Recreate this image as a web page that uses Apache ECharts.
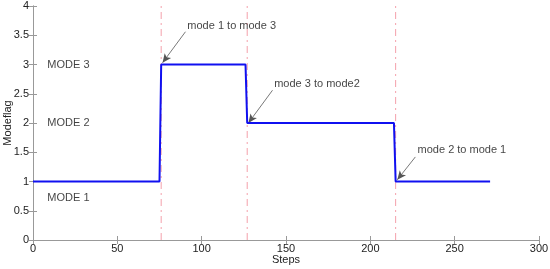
<!DOCTYPE html>
<html><head><meta charset="utf-8">
<script src="https://cdn.jsdelivr.net/npm/echarts@6/dist/echarts.min.js"></script>
<style>html,body{margin:0;padding:0;background:#fff}#c{width:550px;height:269px}</style>
</head><body><div id="c"></div>
<script>
// step series (Steps, Modeflag)
const steps    = [0, 75, 76, 126, 127, 214, 215, 271];
const modeflag = [1, 1, 3, 3, 2, 2, 1, 1];
// transition markers (x positions)
const transitions = [76, 127, 215];
// mode labels
const modeLabels = ['MODE 3', 'MODE 2', 'MODE 1'];
const modeLabelX = [8.5, 8.5, 8.5];
const modeLabelY = [3, 2, 0.72];
// annotations
const annTexts = ['mode 1 to mode 3', 'mode 3 to mode2', 'mode 2 to mode 1'];
const annTextX = [91.5, 143, 228];
const annTextY = [3.66, 2.67, 1.54];
const arrowFromX = [90.4, 142, 226.7];
const arrowFromY = [3.56, 2.56, 1.42];
const arrowToX = [76.8, 127.7, 216];
const arrowToY = [3.03, 2.0, 1.03];

const FONT = 'Liberation Sans';
const chart = echarts.init(document.getElementById('c'));
const axisLine = {show: true, lineStyle: {color: '#999', width: 1}};
const tick = {show: true, inside: true, length: 4, lineStyle: {color: '#999'}};
const vlines = transitions.map(t => ({
  type: 'line', data: [[t, 0], [t, 4]], showSymbol: false, silent: true, z: 2,
  itemStyle: {color: '#f4a0ab'},
  lineStyle: {color: '#f4a0ab', width: 1, type: [7, 4, 2, 4]}
}));
chart.setOption({
  animation: false,
  grid: {left: 33, right: 11, top: 6, bottom: 29, show: false, containLabel: false, outerBoundsMode: 'none'},
  xAxis: [
    {type: 'value', min: 0, max: 300, interval: 50, axisLine, axisTick: tick, splitLine: {show: false},
     axisLabel: {color: '#222', fontFamily: FONT, fontSize: 11, margin: 3},
     name: 'Steps', nameLocation: 'middle', nameGap: 14, nameMoveOverlap: false,
     nameTextStyle: {color: '#222', fontFamily: FONT, fontSize: 11}},
    {type: 'value', position: 'top', min: 0, max: 300, interval: 50, axisLine, axisTick: tick,
     axisLabel: {show: false}, splitLine: {show: false}}
  ],
  yAxis: [
    {type: 'value', min: 0, max: 4, interval: 0.5, axisLine, axisTick: tick, splitLine: {show: false},
     axisLabel: {color: '#222', fontFamily: FONT, fontSize: 11, margin: 4},
     name: 'Modeflag', nameLocation: 'middle', nameGap: 20, nameMoveOverlap: false,
     nameTextStyle: {color: '#222', fontFamily: FONT, fontSize: 11}},
    {type: 'value', position: 'right', min: 0, max: 4, interval: 0.5, axisLine, axisTick: tick,
     axisLabel: {show: false}, splitLine: {show: false}}
  ],
  series: [
    {type: 'line', data: steps.map((s, i) => [s, modeflag[i]]), showSymbol: false,
     itemStyle: {color: '#1010f0'}, lineStyle: {color: '#1010f0', width: 2}, z: 5},
    ...vlines,
    {type: 'scatter', symbolSize: 0, data: modeLabels.map((m, i) => [modeLabelX[i], modeLabelY[i], m]),
     label: {show: true, position: 'right', distance: 0, formatter: p => p.data[2],
       color: '#111', fontFamily: FONT, fontSize: 11}},
    {type: 'scatter', symbolSize: 0, data: annTexts.map((m, i) => [annTextX[i], annTextY[i], m]),
     label: {show: true, position: 'right', distance: 0, formatter: p => p.data[2],
       color: '#111', fontFamily: FONT, fontSize: 11},
     markLine: {silent: true, symbol: ['none', 'arrow'], symbolSize: [6, 9], label: {show: false},
       lineStyle: {color: '#555', width: 0.8, type: 'solid'},
       data: annTexts.map((m, i) => [{coord: [arrowFromX[i], arrowFromY[i]]}, {coord: [arrowToX[i], arrowToY[i]]}])}
    }
  ]
});
</script></body></html>
